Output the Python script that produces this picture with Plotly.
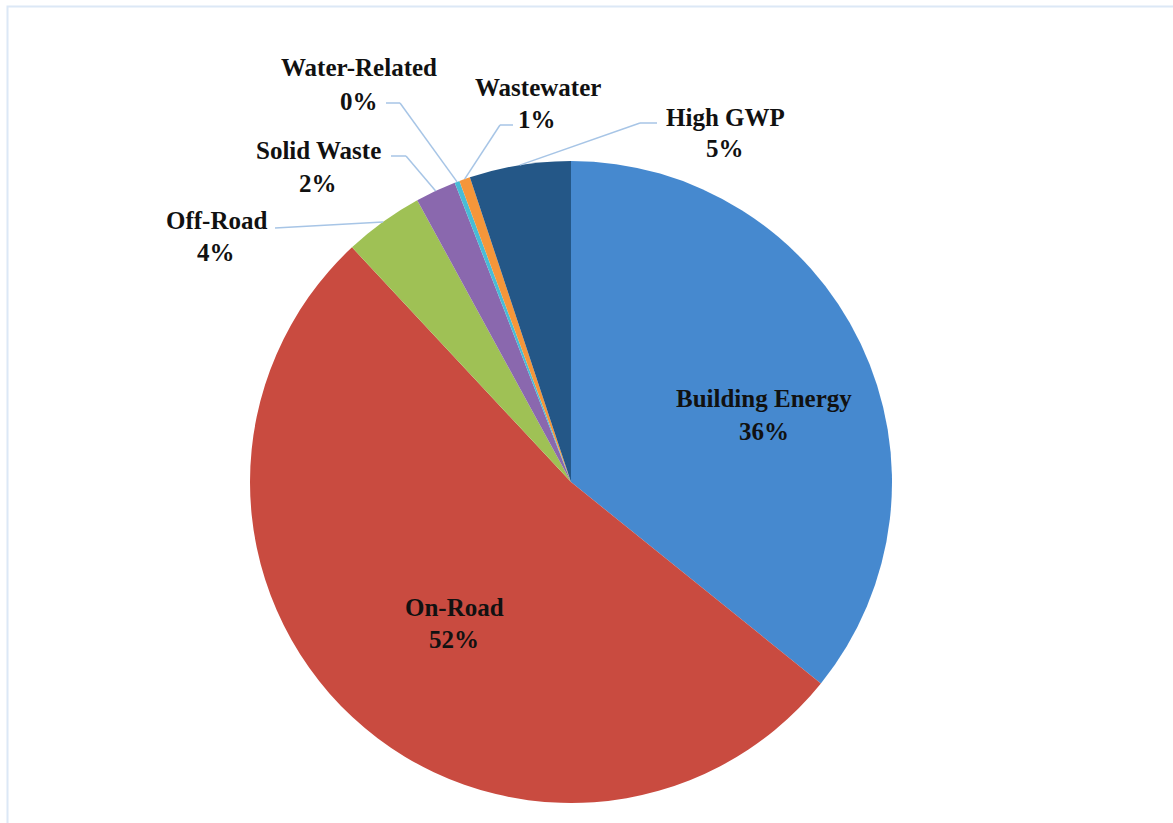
import math
import plotly.graph_objects as go

W, H = 1173, 823

labels = ["Building Energy", "On-Road", "Off-Road", "Solid Waste",
          "Water-Related", "Wastewater", "High GWP"]
values = [35.8, 52.25, 4.0, 2.05, 0.25, 0.55, 5.1]
colors = ["#4689CF", "#C94B40", "#9FC155", "#8A68AE",
          "#48BCD6", "#F5963A", "#245787"]

# label text centres (pixels): name line, percent line
label_pos = {
    "Building Energy": ((764, 398), (764, 431)),
    "On-Road": ((454, 607), (454, 639)),
    "Off-Road": ((216, 220), (216, 252)),
    "Solid Waste": ((318, 150), (318, 183)),
    "Water-Related": ((359, 67), (359, 101)),
    "Wastewater": ((538, 87), (537, 119)),
    "High GWP": ((725, 117), (725, 148)),
}
# leader line elbows (pixels): start near label, elbow
leaders = {
    "Off-Road": [(275, 228), (383, 222)],
    "Solid Waste": [(391, 156), (406, 156)],
    "Water-Related": [(386, 103), (400, 103)],
    "Wastewater": [(513, 125), (500, 125)],
    "High GWP": [(657, 123), (640, 123)],
}

dom_x = [250 / W, 892 / W]
dom_y = [1 - 803 / H, 1 - 161 / H]

def px(x):
    return x / W

def py(y):
    return 1 - y / H

fig = go.Figure(go.Pie(
    labels=labels, values=values, sort=False, direction="clockwise",
    rotation=0, marker=dict(colors=colors, line=dict(width=0)),
    textinfo="none", hoverinfo="label+percent",
    domain=dict(x=dom_x, y=dom_y), showlegend=False,
))

cx = (dom_x[0] + dom_x[1]) / 2 * W
cy = (1 - (dom_y[0] + dom_y[1]) / 2) * H
r = min((dom_x[1] - dom_x[0]) * W, (dom_y[1] - dom_y[0]) * H) / 2

total = sum(values)
annotations = []
shapes = []
cum = 0.0
font = dict(family="Liberation Serif, Times New Roman, serif", size=25, color="#111111")
line_col = "#A7C5E6"
for lab, v in zip(labels, values):
    mid = (cum + v / 2) / total * 2 * math.pi
    cum += v
    pct = round(v / total * 100)
    (nx, ny), (qx, qy) = label_pos[lab]
    annotations.append(dict(x=px(nx), y=py(ny), xref="paper", yref="paper",
                            text=f"<b>{lab}</b>", showarrow=False, font=font,
                            xanchor="center", yanchor="middle"))
    annotations.append(dict(x=px(qx), y=py(qy), xref="paper", yref="paper",
                            text=f"<b>{pct}%</b>", showarrow=False, font=font,
                            xanchor="center", yanchor="middle"))
    if lab in leaders:
        ex = cx + r * math.sin(mid)
        ey = cy - r * math.cos(mid)
        pts = leaders[lab] + [(ex, ey)]
        for (x0, y0), (x1, y1) in zip(pts[:-1], pts[1:]):
            shapes.append(dict(type="line", xref="paper", yref="paper",
                               x0=px(x0), y0=py(y0), x1=px(x1), y1=py(y1),
                               line=dict(color=line_col, width=1.5)))

# outer chart border
shapes.append(dict(type="rect", xref="paper", yref="paper",
                   x0=px(7.5), y0=-0.02, x1=1.02, y1=py(6.5),
                   line=dict(color="#DCE8F6", width=2), fillcolor="rgba(0,0,0,0)",
                   layer="below"))

fig.update_layout(
    width=W, height=H, margin=dict(l=0, r=0, t=0, b=0),
    paper_bgcolor="white", plot_bgcolor="white",
    annotations=annotations, shapes=shapes,
)

fig.write_html("out.html")
